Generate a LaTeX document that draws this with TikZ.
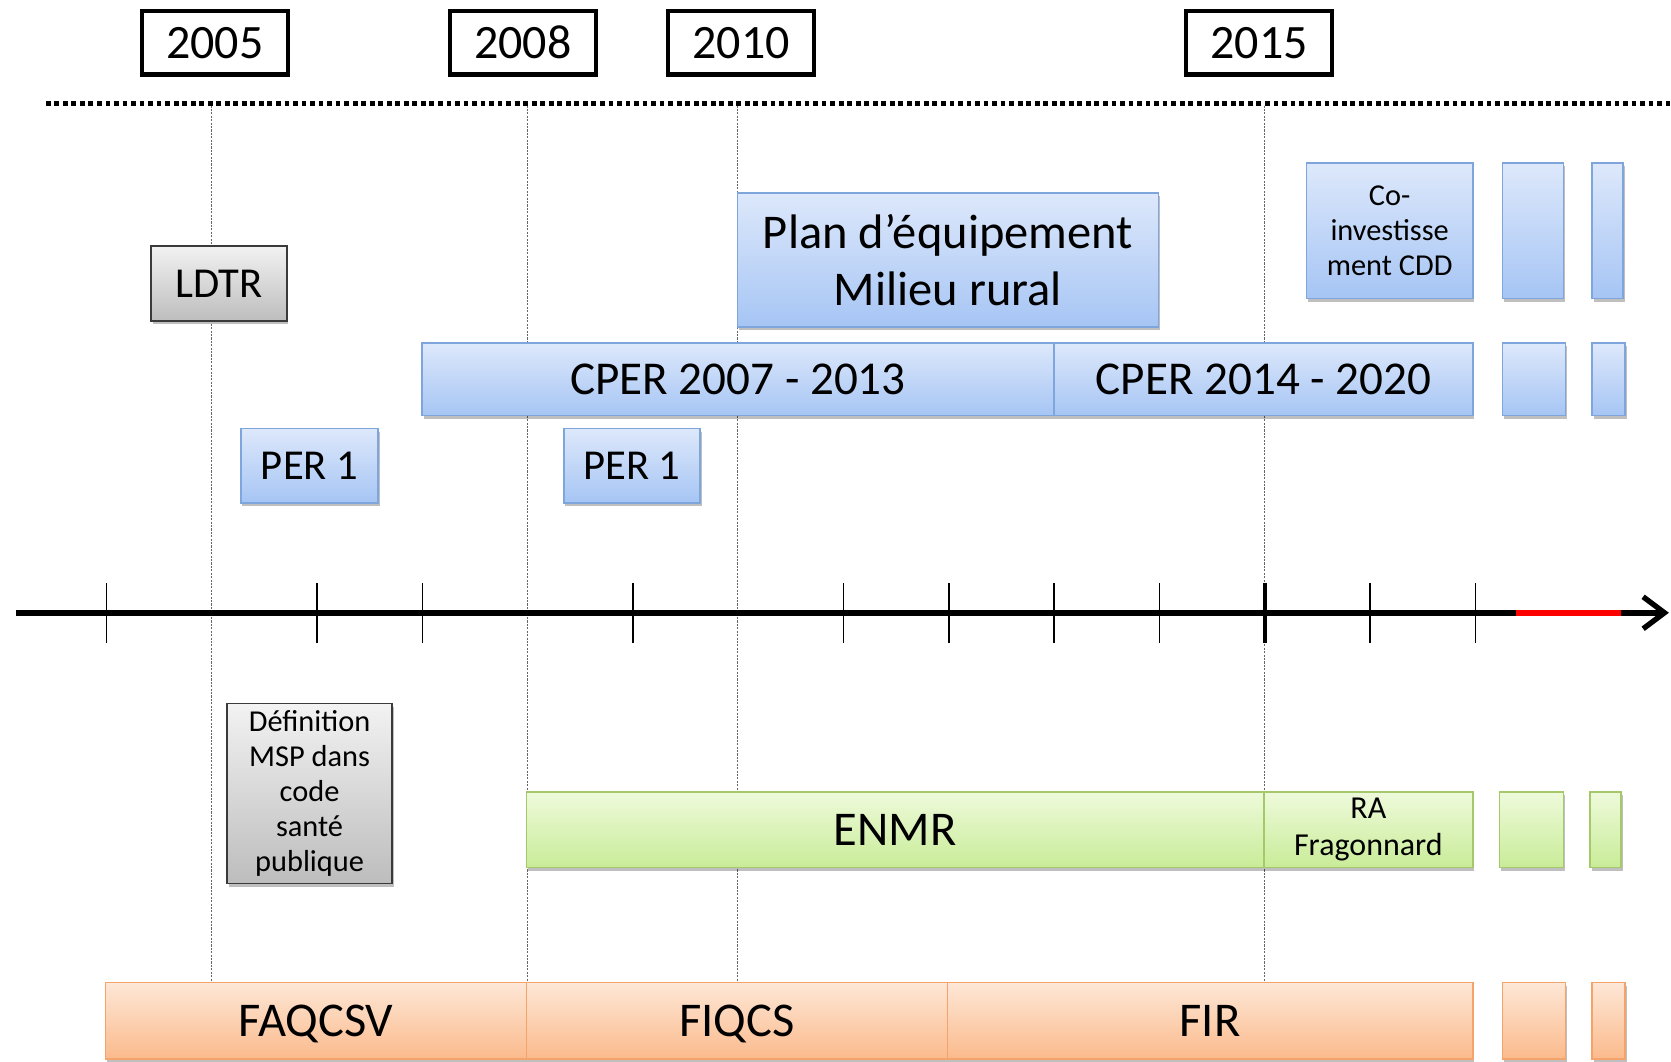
\documentclass[tikz,border=0pt]{standalone}
\usepackage{fontspec}
\setmainfont{Carlito}
\usetikzlibrary{shadows,arrows.meta}

\definecolor{blueEdge}{HTML}{7EA6DC}
\definecolor{blueTop}{HTML}{DDE8FB}
\definecolor{blueBot}{HTML}{A6C5F4}
\definecolor{grayEdge}{HTML}{3A3A3A}
\definecolor{grayTop}{HTML}{F2F2F2}
\definecolor{grayBot}{HTML}{BDBDBD}
\definecolor{greenEdge}{HTML}{A5C86A}
\definecolor{greenTop}{HTML}{EEFADB}
\definecolor{greenBot}{HTML}{C9EC98}
\definecolor{orangeEdge}{HTML}{F4A46A}
\definecolor{orangeTop}{HTML}{FDE7D6}
\definecolor{orangeBot}{HTML}{FBBA8C}

\begin{document}
\begin{tikzpicture}[x=1pt,y=-1pt,
  every node/.style={inner sep=0pt, outer sep=0pt, align=center},
  % single-line labels: capitals centred in the box
  big/.style={text height=29.3pt, text depth=0pt, font=\fontsize{45.5}{53}\selectfont},
  cper/.style={text height=28.5pt, text depth=0pt, font=\fontsize{44.2}{53}\selectfont},
  mid/.style={text height=25.8pt, text depth=0pt, font=\fontsize{40}{48}\selectfont},
  small/.style={font=\fontsize{28.5}{33}\selectfont},
  yearbox/.style={rectangle, draw=black, line width=4pt, fill=white,
    text height=29pt, text depth=0pt,
    minimum height=60pt, minimum width=137pt, font=\fontsize{45}{50}\selectfont},
  bar/.style={rectangle, line width=1.6pt,
    drop shadow={shadow xshift=1.5pt, shadow yshift=-3pt, opacity=0.25, fill=black}},
  bluebar/.style={bar, draw=blueEdge, top color=blueTop, bottom color=blueBot},
  graybar/.style={bar, draw=grayEdge, top color=grayTop, bottom color=grayBot},
  greenbar/.style={bar, draw=greenEdge, top color=greenTop, bottom color=greenBot},
  orangebar/.style={bar, draw=orangeEdge, top color=orangeTop, bottom color=orangeBot},
  guide/.style={draw=black!60, line width=0.8pt, dash pattern=on 2pt off 1.2pt},
  tick/.style={draw=black, line width=1.6pt},
  axis/.style={draw=black, line width=6pt}
]
\useasboundingbox (0,0) rectangle (1568,996);

% year labels
\node[yearbox] (y2005) at (201.5,40) {2005};
\node[yearbox] (y2008) at (490.5,40) {2008};
\node[yearbox] (y2010) at (695.5,40) {2010};
\node[yearbox] (y2015) at (1181.5,40) {2015};

% dotted separator under the years
\coordinate (sepL) at (43,97);
\coordinate (sepR) at (1568,97);
\draw[line width=5pt, dash pattern=on 4.5pt off 3.5pt] (sepL) -- (sepR);

% vertical guides at the marked years
\foreach \n/\x in {a/198.8, b/494.5, c/692.3, d/1186.3} {
  \coordinate (gt\n) at (\x,99);
  \coordinate (gb\n) at (\x,921);
  \draw[guide] (gt\n) -- (gb\n);
}

% time axis
\coordinate (axL) at (15,575);
\coordinate (axR) at (1566,575);
\draw[axis, -{Straight Barb[length=20pt, width=30pt, line width=5pt]}] (axL) -- (axR);
\coordinate (redL) at (1423,575);
\coordinate (redR) at (1521,575);
\draw[line width=6pt, red] (redL) -- (redR);
\foreach \x in {100, 297.6, 396.4, 594, 791.6, 890.4, 989.2, 1088, 1285.6, 1384.4} {
  \draw[tick] (\x,547) -- (\x,603);
}
\draw[tick, line width=4pt] (1186.8,547) -- (1186.8,603);

% upper row of programmes
\node[graybar, mid, minimum width=127pt, minimum height=70pt] (ldtr) at (205.5,266) {LDTR};
\node[bluebar, font=\fontsize{45.5}{53}\selectfont, minimum width=395pt, minimum height=126pt] (plan) at (889.5,244) {Plan d’équipement\\Milieu rural};
\node[bluebar, small, minimum width=156pt, minimum height=127pt] (coinv) at (1304,216.5) {Co-\\investisse\\ment CDD};
\node[bluebar, minimum width=57pt, minimum height=127pt] (bA1) at (1438.5,216.5) {};
\node[bluebar, minimum width=29pt, minimum height=127pt] (bA2) at (1508.5,216.5) {};

\node[bluebar, cper, minimum width=593pt, minimum height=68pt] (cper1) at (692.5,356) {CPER 2007 - 2013};
\node[bluebar, cper, minimum width=393pt, minimum height=68pt] (cper2) at (1185.5,356) {CPER 2014 - 2020};
\node[bluebar, minimum width=59pt, minimum height=68pt] (bB1) at (1439.5,356) {};
\node[bluebar, minimum width=31pt, minimum height=68pt] (bB2) at (1509.5,356) {};

\node[bluebar, mid, minimum width=129pt, minimum height=70pt] (per1a) at (290.5,437) {PER 1};
\node[bluebar, mid, minimum width=128pt, minimum height=70pt] (per1b) at (593,437) {PER 1};

% lower row of programmes
\node[graybar, small, minimum width=155pt, minimum height=169pt] (msp) at (290.5,744.5) {Définition\\MSP dans\\code\\santé\\publique};
\node[greenbar, big, minimum width=692pt, minimum height=71pt] (enmr) at (840,778.5) {ENMR};
\node[greenbar, minimum width=196pt, minimum height=71pt, font=\fontsize{30}{35}\selectfont] (ra) at (1284,778.5) {RA\\Fragonnard};
\node[greenbar, minimum width=60pt, minimum height=71pt] (gC1) at (1437,778.5) {};
\node[greenbar, minimum width=29pt, minimum height=71pt] (gC2) at (1506.5,778.5) {};

\node[orangebar, big, minimum width=395pt, minimum height=72pt] (faq) at (296.5,958) {FAQCSV};
\node[orangebar, big, minimum width=395pt, minimum height=72pt] (fiqcs) at (691.5,958) {FIQCS};
\node[orangebar, big, minimum width=493pt, minimum height=72pt] (fir) at (1135.5,958) {FIR};
\node[orangebar, minimum width=59pt, minimum height=72pt] (oD1) at (1439.5,958) {};
\node[orangebar, minimum width=31pt, minimum height=72pt] (oD2) at (1509.5,958) {};
\end{tikzpicture}
\end{document}
